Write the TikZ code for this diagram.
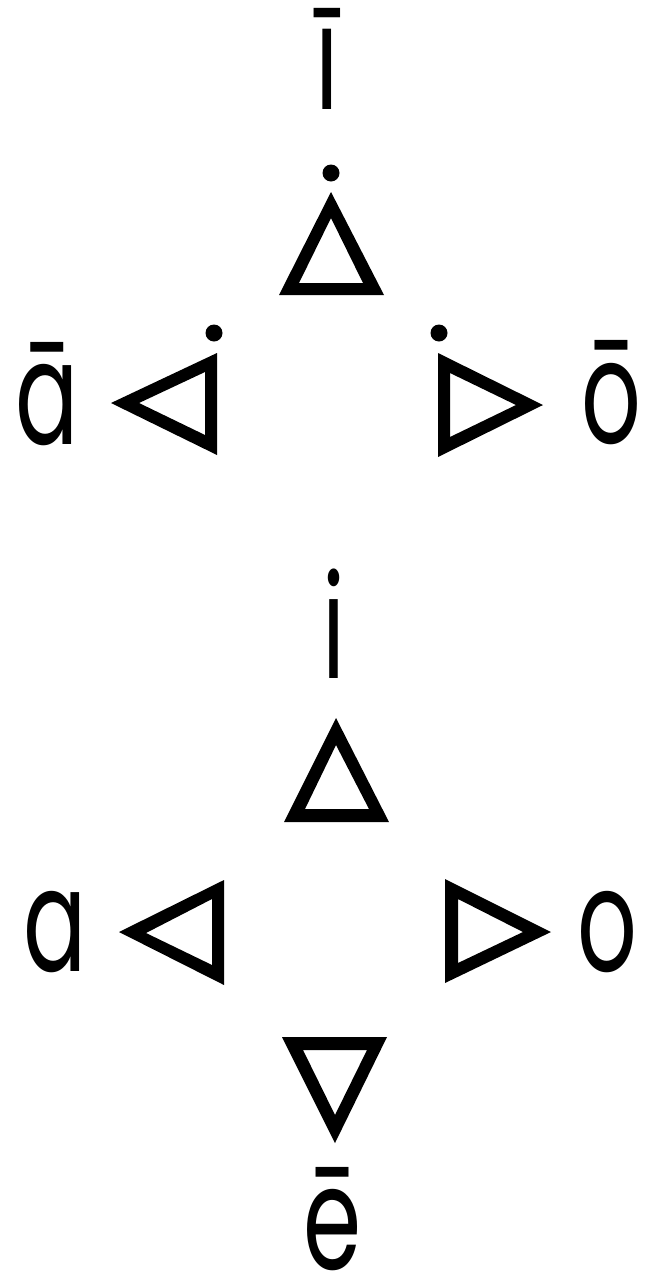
\documentclass[tikz,border=0pt]{standalone}
\usepackage{fontspec}
\setmainfont{Poppins}
\newfontfamily\stemfont{Liberation Sans}
\begin{document}
\begin{tikzpicture}[x=1pt,y=-1pt,
    letter/.style={anchor=base,inner sep=0pt,font=\fontsize{144}{144}\selectfont,xscale=0.65},
    tri/.style={fill=black,even odd rule},
    pt/.style={fill=black}]
    \useasboundingbox (0,0) rectangle (649,1277);
    %Voyelles longues
    \node[letter,font=\stemfont\fontsize{152}{152}\selectfont] (ilong) at (327,109) {ī};
    \fill[pt] (331,173) circle (8.5);
    \path[tri] (331,192) -- (384,295) -- (279,295) -- cycle (331,218) -- (363,283) -- (299,283) -- cycle;
    \node[letter] (along) at (47,444) {ā};
    \fill[pt] (214,333) circle (8.5);
    \path[tri] (111,403) -- (217,353) -- (217,455) -- cycle (139,403) -- (205,372) -- (205,435) -- cycle;
    \node[letter] (olong) at (611,443) {ō};
    \fill[pt] (439,333) circle (8.5);
    \path[tri] (543,405) -- (438,353) -- (438,457) -- cycle (516,405) -- (450,373) -- (450,437) -- cycle;
    %Voyelles breves
    \node[letter] (ishort) at (334,678) {i};
    \path[tri] (336,718) -- (389,822) -- (284,822) -- cycle (336,745) -- (369,809) -- (305,809) -- cycle;
    \node[letter] (ashort) at (55,971) {a};
    \path[tri] (119,932) -- (224,880) -- (224,985) -- cycle (146,933) -- (212,899) -- (212,965) -- cycle;
    \node[letter] (oshort) at (607,971) {o};
    \path[tri] (551,932) -- (445,879) -- (445,983) -- cycle (523,932) -- (458,899) -- (458,963) -- cycle;
    %e long
    \path[tri] (282,1037) -- (387,1037) -- (335,1143) -- cycle (303,1050) -- (367,1050) -- (335,1115) -- cycle;
    \node[letter] (elong) at (333,1269) {ē};
\end{tikzpicture}
\end{document}
